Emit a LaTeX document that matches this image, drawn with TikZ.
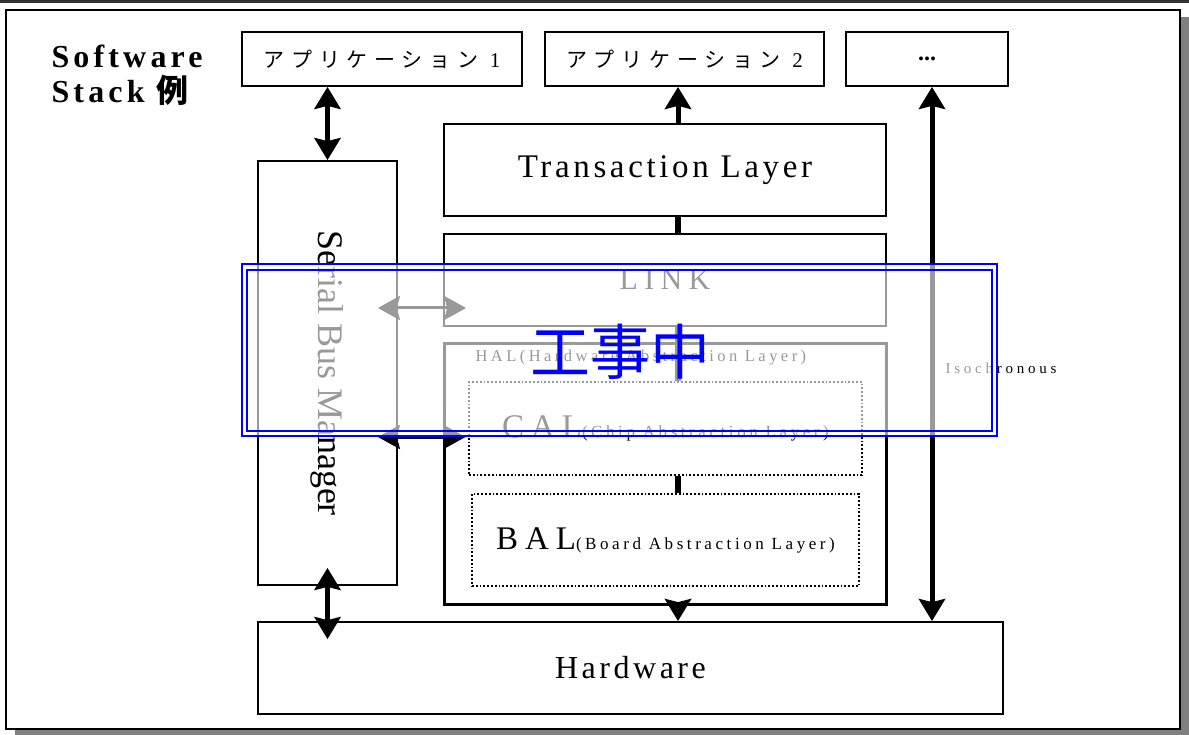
\documentclass[tikz,border=0pt]{standalone}
\usepackage{fontspec}
\setmainfont{Liberation Serif}
\newfontfamily\lsA[LetterSpace=11]{Liberation Serif}
\newfontfamily\lsB[LetterSpace=21]{Liberation Serif}
\newfontfamily\lsC[LetterSpace=25]{Liberation Serif}
\newfontfamily\lsSW[LetterSpace=13]{Liberation Serif}
\newfontfamily\kana[LetterSpace=32]{Noto Sans CJK JP}
\newfontfamily\cjk{Noto Sans CJK JP}
\usetikzlibrary{arrows.meta,calc}
\begin{document}
\begin{tikzpicture}[x=1pt,y=-1pt,
  box/.style={draw, line width=1.8pt, fill=white, inner sep=0pt},
  halbox/.style={draw, line width=3pt, fill=white, inner sep=0pt},
  dotbox/.style={draw, line width=1.8pt, dotted, fill=white, inner sep=0pt},
  conn/.style={line width=6pt},
  hd/.tip={Stealth[length=22pt,width=26pt,inset=3pt]},
  dbl/.style={line width=5pt, hd-hd},
  sgl/.style={line width=5pt, -hd},
  hdbl/.style={line width=3pt, {Stealth[length=22pt,width=24pt,inset=3pt]}-{Stealth[length=22pt,width=24pt,inset=3pt]}},
  apptext/.style={font=\kana\fontsize{21}{24}\selectfont},
  bigtext/.style={font=\lsA\fontsize{33}{36}\selectfont},
]
\useasboundingbox (0,0) rectangle (1189,735);
% frame with shadow
\fill[black!50] (15,17) rectangle (1189,735);
\draw[line width=2pt, fill=white] (6,10) rectangle (1180,729);
\draw[line width=2.5pt, black!80] (0,1.5) -- (1189,1.5);

% title
\node[anchor=west, align=left, font=\lsSW\bfseries\fontsize{32}{35}\selectfont] (title) at (48,75) {Software\\Stack {\cjk\bfseries 例}};

% application boxes
\node[box, apptext, minimum width=280pt, minimum height=54pt] (app1) at (382,59) {アプリケーション {\rmfamily 1}};
\node[box, apptext, minimum width=279pt, minimum height=54pt] (app2) at (684.5,59) {アプリケーション {\rmfamily 2}};
\node[box, font=\bfseries\fontsize{24}{24}\selectfont, minimum width=162pt, minimum height=54pt] (dots) at (927,59) {...};

% serial bus manager
\node[box, minimum width=139pt, minimum height=424pt] (sbm) at (327.5,373) {};
\node[rotate=-90, font=\fontsize{36}{40}\selectfont] (sbmtext) at (sbm.center) {Serial Bus Manager};

% stack
\node[box, bigtext, minimum width=442pt, minimum height=92pt] (trans) at (665,170) {Transaction Layer};
\node[box, font=\lsB\fontsize{30}{34}\selectfont, minimum width=442pt, minimum height=92pt] (link) at (665,280) {LINK};
\node[halbox, minimum width=442pt, minimum height=260pt] (hal) at (665,474) {};
\node[anchor=west, font=\lsB\fontsize{16.5}{18}\selectfont] (hallabel) at (472,358) {HAL(Hardware Abstraction Layer)};
\node[dotbox, minimum width=393pt, minimum height=93pt] (cal) at (665.5,428.5) {};
\node[font=\lsB\fontsize{17}{18}\selectfont] (caltext) at (cal.center) {{\fontsize{33}{34}\selectfont CAL}(Chip Abstraction Layer)};
\node[dotbox, minimum width=387pt, minimum height=92pt] (bal) at (665.5,540) {};
\node[font=\lsB\fontsize{17}{18}\selectfont] (baltext) at (bal.center) {{\fontsize{33}{34}\selectfont BAL}(Board Abstraction Layer)};

% hardware
\node[box, font=\lsA\fontsize{32}{36}\selectfont, minimum width=745pt, minimum height=92pt] (hw) at (630.5,668) {Hardware};

% helper coordinates
\coordinate (mx) at (678,0);
\coordinate (iso) at (932,0);
\coordinate (ya) at (0,308);
\coordinate (yb) at (0,437);

% connectors
\draw[dbl] (app1.south -| sbm.north) -- (sbm.north);
\draw[sgl] (trans.north -| mx) -- (app2.south -| mx);
\draw[conn] (trans.south -| mx) -- (link.north -| mx);
\draw[conn] (link.south -| mx) -- (cal.north -| mx);
\draw[conn] (cal.south -| mx) -- (bal.north -| mx);
\draw[sgl, shorten <=-4pt] (hal.south -| mx) -- (hw.north -| mx);
\draw[dbl] (dots.south -| iso) -- (hw.north -| iso);
\draw[dbl, shorten <=-18pt, shorten >=-18pt] (sbm.south) -- (hw.north -| sbm.south);
\draw[hdbl, shorten <=-20pt, shorten >=-23pt] (sbm.east |- ya) -- (link.west |- ya);
\draw[hdbl, shorten <=-20pt, shorten >=-23pt] (sbm.east |- yb) -- (hal.west |- yb);
\node[anchor=west, font=\lsC\fontsize{15}{18}\selectfont] (isolabel) at (942,368) {Isochronous};

% under-construction band
\fill[white, opacity=0.6] (243,265) rectangle (996,435);
\draw[blue, line width=1.6pt] (242,264) rectangle (997,436);
\draw[blue, line width=1.6pt] (247,270) rectangle (992,431);
\node[text=blue, font=\cjk\fontsize{60}{60}\selectfont] (kouji) at (620,352) {工事中};
\end{tikzpicture}
\end{document}
